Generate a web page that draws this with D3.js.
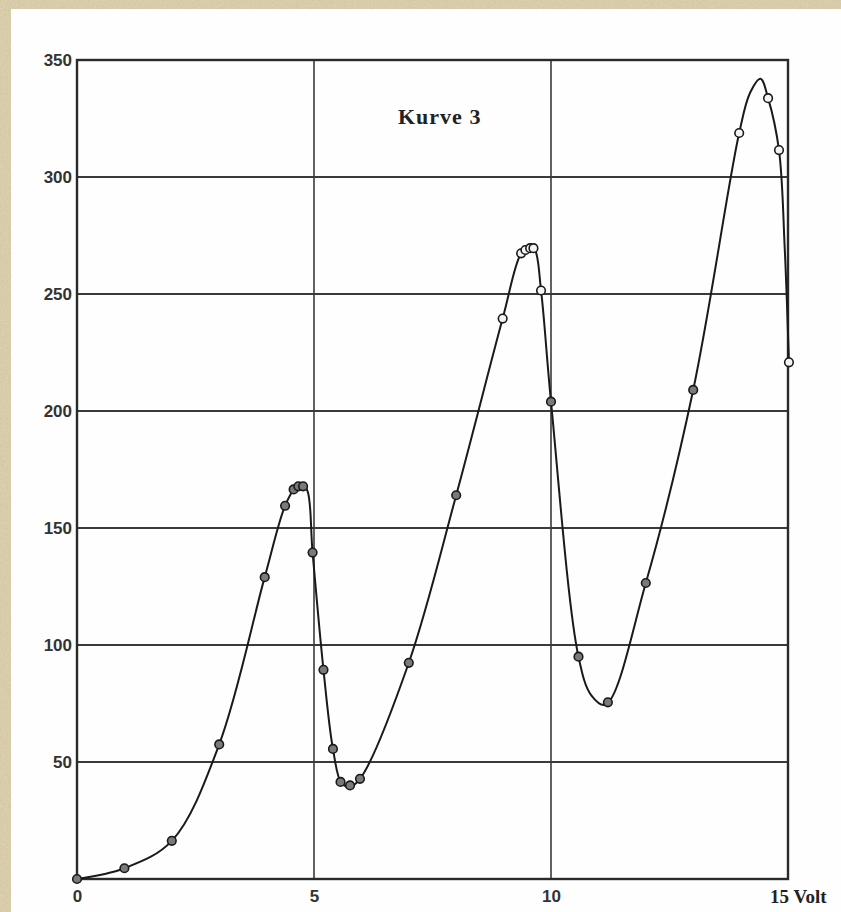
<!DOCTYPE html>
<html>
<head>
<meta charset="utf-8">
<script src="https://cdn.jsdelivr.net/npm/d3@7"></script>
<style>
  body { margin: 0; background: #fff; }
  svg { display: block; }
</style>
</head>
<body>
<svg></svg>
<script>
// measured points (Volt, current)
var volts = [0, 1, 2, 3, 3.96, 4.39, 4.57, 4.67, 4.77, 4.97, 5.2, 5.4, 5.56, 5.76, 5.97,
             7, 8, 8.98, 9.37, 9.46, 9.56, 9.63, 9.79, 10, 10.58, 11.2, 12, 13,
             13.97, 14.58, 14.81, 15.02];
var current = [0, 4.6, 16.3, 57.5, 129, 159.5, 166.5, 167.8, 167.8, 139.5, 89.4, 55.6, 41.5, 40, 42.8,
               92.4, 164, 239.5, 267.4, 268.8, 269.6, 269.6, 251.5, 204, 95, 75.5, 126.5, 209,
               318.8, 333.7, 311.5, 220.8];

// hand drawn curve
var curveV = [0, 1, 2, 3, 3.96, 4.39, 4.6, 4.75, 4.86, 4.97, 5.2, 5.4, 5.58, 5.76, 5.97,
              7, 8, 8.98, 9.37, 9.55, 9.66, 9.79, 10, 10.58, 10.85, 11.15, 12, 13,
              13.97, 14.2, 14.42, 14.58, 14.81, 14.93, 15.02];
var curveI = [0, 4.6, 16.3, 57.5, 129, 159.5, 167, 168.5, 166, 139.5, 89.4, 55.6, 41, 39.5, 42.8,
              92.4, 164, 239.5, 267.4, 270.5, 269, 251.5, 204, 95, 78.5, 74.5, 126.5, 209,
              318.8, 336, 342, 333.7, 311.5, 270, 220.8];

var yTicks = [50, 100, 150, 200, 250, 300, 350];
var xTicks = [0, 5, 10];
var yLabels = [0, 50, 100, 150, 200, 250, 300, 350];

var W = 841, H = 912;
var svg = d3.select("svg").attr("width", W).attr("height", H);

// scanned page border
var defs = svg.append("defs");
var f = defs.append("filter").attr("id", "grain")
f.append("feTurbulence").attr("type", "fractalNoise").attr("baseFrequency", 0.6).attr("numOctaves", 2).attr("result", "n");
f.append("feColorMatrix").attr("in", "n").attr("type", "matrix")
  .attr("values", "0 0 0 0 0.55  0 0 0 0 0.48  0 0 0 0 0.33  0 0 0 -1.2 0.9");
svg.append("rect").attr("width", W).attr("height", H).attr("fill", "#ddd0ae");
svg.append("rect").attr("width", W).attr("height", H).attr("filter", "url(#grain)").attr("opacity", 0.6);
svg.append("rect").attr("x", 11).attr("y", 9).attr("width", W - 11).attr("height", H - 9).attr("fill", "#fefefe");

var x = d3.scaleLinear().domain([0, 15]).range([77, 788]);
var y = d3.scaleLinear().domain([0, 350]).range([879, 60]);

// grid
svg.append("g").selectAll("line").data(yTicks).enter().append("line")
   .attr("x1", x(0)).attr("x2", x(15))
   .attr("y1", function(d){ return y(d) }).attr("y2", function(d){ return y(d) })
   .attr("stroke", "#3a3a3a").attr("stroke-width", 1.8);
svg.append("g").selectAll("line").data([5, 10]).enter().append("line")
   .attr("x1", function(d){ return x(d) }).attr("x2", function(d){ return x(d) })
   .attr("y1", y(0)).attr("y2", y(350))
   .attr("stroke", "#3a3a3a").attr("stroke-width", 1.6);

svg.append("rect")
   .attr("x", x(0)).attr("y", y(350))
   .attr("width", x(15) - x(0)).attr("height", y(0) - y(350))
   .attr("fill", "none").attr("stroke", "#2a2a2a").attr("stroke-width", 2.4);

// axes labels
var yAxis = d3.axisLeft(y).tickValues(yLabels).tickSize(0).tickPadding(5)
              .tickFormat(function(d){ return d === 0 ? "" : d });
var gy = svg.append("g").attr("transform", "translate(" + x(0) + ",0)").call(yAxis);
var xAxis = d3.axisBottom(x).tickValues(xTicks).tickSize(0).tickPadding(11);
var gx = svg.append("g").attr("transform", "translate(0," + y(0) + ")").call(xAxis);
[gy, gx].forEach(function(g){
  g.select(".domain").remove();
  g.selectAll("text")
   .attr("font-family", "Liberation Sans, Arial, sans-serif")
   .attr("font-weight", "bold")
   .attr("font-size", 17)
   .attr("fill", "#333");
});

svg.append("text")
   .attr("x", x(15) - 18).attr("y", 903)
   .attr("font-family", "Liberation Serif, serif").attr("font-weight", "bold")
   .attr("font-size", 19).attr("fill", "#222")
   .text("15 Volt");

svg.append("text")
   .attr("x", 398).attr("y", 124)
   .attr("font-family", "Liberation Serif, serif").attr("font-weight", "bold")
   .attr("font-size", 22).attr("letter-spacing", 1).attr("fill", "#222")
   .text("Kurve 3");

// curve
var pts = curveV.map(function(v, i){ return [v, curveI[i]] });
var line = d3.line()
             .x(function(d){ return x(d[0]) })
             .y(function(d){ return y(d[1]) })
             .curve(d3.curveCatmullRom.alpha(0.5));
svg.append("path").datum(pts)
   .attr("d", line)
   .attr("fill", "none").attr("stroke", "#1a1a1a").attr("stroke-width", 2);

// measured points
var data = volts.map(function(v, i){ return {v: v, i: current[i]} });
svg.append("g").selectAll("circle").data(data).enter().append("circle")
   .attr("cx", function(d){ return x(d.v) })
   .attr("cy", function(d){ return y(d.i) })
   .attr("r", 4.3)
   .attr("fill", function(d, k){ return (k < 17 || (k > 22 && k < 28)) ? "#7a7a7a" : "#f4f4f4" })
   .attr("stroke", "#1a1a1a").attr("stroke-width", 1.6);
</script>
</body>
</html>
